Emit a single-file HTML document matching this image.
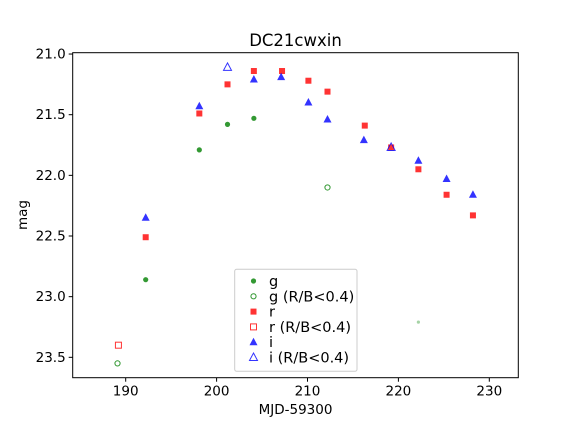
<!DOCTYPE html>
<html><head><meta charset="utf-8"><style>
body{margin:0;background:#fff;font-family:"Liberation Sans","DejaVu Sans",sans-serif}
text{font-family:"DejaVu Sans","Liberation Sans",sans-serif}
</style></head><body>
<svg id="chart" width="576" height="432" xmlns="http://www.w3.org/2000/svg">
<rect width="576" height="432" fill="#fff"/>
<text x="295.5" y="46" font-size="16.5" text-anchor="middle">DC21cwxin</text>
<text x="295.5" y="414" font-size="13.5" text-anchor="middle">MJD-59300</text>
<text transform="translate(27,215) rotate(-90)" font-size="13.5" text-anchor="middle">mag</text>
<g id="ticks"></g>
<g id="marks"></g>
<rect x="72.7" y="52.7" width="445.6" height="325" fill="none" stroke="#000" stroke-width="1"/>
<g id="legend"></g>
</svg>
<script>
const xTicks=[190,200,210,220,230];
const yTicks=[21.0,21.5,22.0,22.5,23.0,23.5];
const gX=[192.2,198.1,201.2,204.1];
const gY=[22.86,21.79,21.58,21.53];
const gWeakX=[189.1,212.2];
const gWeakY=[23.55,22.10];
const gFaintX=[222.2];
const gFaintY=[23.21];
const rX=[192.2,198.1,201.2,204.1,207.2,210.1,212.2,216.3,219.2,222.2,225.3,228.2];
const rY=[22.51,21.49,21.25,21.14,21.14,21.22,21.31,21.59,21.77,21.95,22.16,22.33];
const rWeakX=[189.2];
const rWeakY=[23.40];
const iX=[192.2,198.1,204.1,207.1,210.1,212.2,216.2,222.2,225.3,228.2];
const iY=[22.35,21.43,21.21,21.19,21.40,21.54,21.71,21.88,22.03,22.16];
const iWeakX=[201.2,219.2];
const iWeakY=[21.11,21.77];
const legendLabels=["g","g (R/B<0.4)","r","r (R/B<0.4)","i","i (R/B<0.4)"];

const L=72.7,R=518.3,T=52.7,B=377.7,X0=184.17,X1=233.19,Y0=20.989,Y1=23.668;
const sx=v=>L+(v-X0)/(X1-X0)*(R-L);
const sy=v=>T+(v-Y0)/(Y1-Y0)*(B-T);
const NS="http://www.w3.org/2000/svg";
function mk(tag,attrs,parent){const e=document.createElementNS(NS,tag);for(const k in attrs)e.setAttribute(k,attrs[k]);parent.appendChild(e);return e;}
const tk=document.getElementById('ticks');
xTicks.forEach(v=>{
  const l=mk('line',{x1:sx(v),x2:sx(v),y1:B,y2:B+4,stroke:'#000'},tk);
  
  
  const t=mk('text',{x:sx(v),y:B+18,'font-size':13.5,'text-anchor':'middle'},tk);t.textContent=v;
  
  
});
yTicks.forEach(v=>{
  const l=mk('line',{x1:L-4,x2:L,y1:sy(v),y2:sy(v),stroke:'#000'},tk);
  
  
  const t=mk('text',{x:L-7,y:sy(v)+4.5,'font-size':13.5,'text-anchor':'end'},tk);t.textContent=v.toFixed(1);
  
  
});
function marker(type,cx,cy,open,color,parent,op){
  let e;
  if(type==='o') e=mk('circle',{cx:cx,cy:cy,r:2.6},parent);
  else if(type==='s') e=mk('rect',{x:cx-3,y:cy-3,width:6,height:6},parent);
  else e=mk('polygon',{points:`${cx},${cy-4.5} ${cx+4},${cy+3} ${cx-4},${cy+3}`},parent);
  if(open){e.setAttribute('fill','none');e.setAttribute('stroke',color);e.setAttribute('stroke-width','1');}
  else e.setAttribute('fill',color);
  e.setAttribute('opacity',op||0.8);
  return e;
}
const mg=document.getElementById('marks');
function series(xs,ys,type,open,color,name,op){
  xs.forEach((x,i)=>{const e=marker(type,sx(x),sy(ys[i]),open,color,mg,op);
    
    });
}
series(gX,gY,'o',false,'#008000','g-point');
series(gWeakX,gWeakY,'o',true,'#008000','g-weak-point');
gFaintX.forEach((x,i)=>{const e=mk('circle',{cx:sx(x),cy:sy(gFaintY[i]),r:1.6,fill:'#008000',opacity:0.35},mg);
  
  });
series(rX,rY,'s',false,'#ff0000','r-point');
series(rWeakX,rWeakY,'s',true,'#ff0000','r-weak-point');
series(iX,iY,'^',false,'#0000ff','i-point');
series(iWeakX,iWeakY,'^',true,'#0000ff','i-weak-point');
const lg=document.getElementById('legend');
mk('rect',{x:234.7,y:269.3,width:122.3,height:102,rx:2,fill:'#fff','fill-opacity':0.8,stroke:'#ccc'},lg);
const types=['o','o','s','s','^','^'],opens=[false,true,false,true,false,true],cols=['#008000','#008000','#ff0000','#ff0000','#0000ff','#0000ff'];
legendLabels.forEach((lab,i)=>{
  const y=281+i*15.3;
  const m=marker(types[i],253.5,y,opens[i],cols[i],lg);
  
  
  const t=mk('text',{x:269,y:y+5,'font-size':14.5},lg);t.textContent=lab;
  
  
});
</script>
</body></html>
